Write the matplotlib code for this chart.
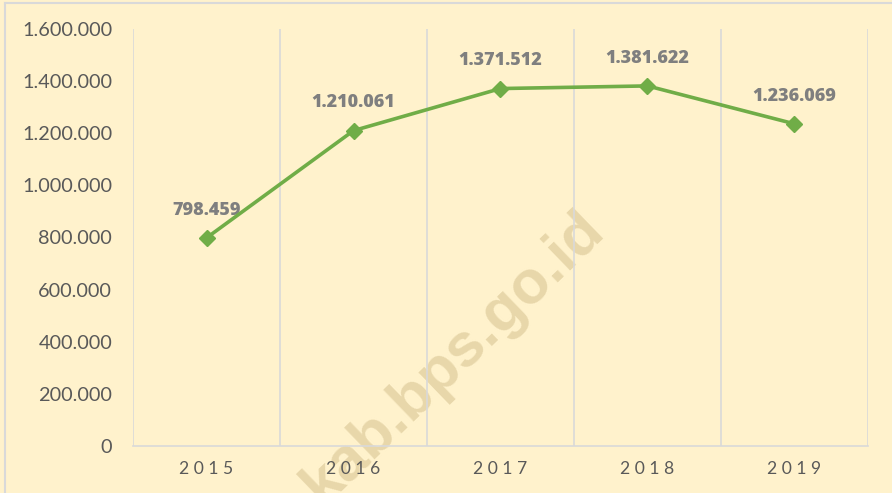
import numpy as np
import matplotlib
matplotlib.use("Agg")
import matplotlib.pyplot as plt
from matplotlib.lines import Line2D

# --- data ---
years = ["2015", "2016", "2017", "2018", "2019"]
values = [798459, 1210061, 1371512, 1381622, 1236069]
y_ticks = [0, 200000, 400000, 600000, 800000, 1000000, 1200000, 1400000, 1600000]


def fmt_id(v):
    return f"{v:,.0f}".replace(",", ".")


plt.rcParams['font.family'] = ['Lato', 'DejaVu Sans']

BG = '#FFF2CC'
GREEN = '#70AD47'
GRID = '#D9D9D9'
TXT = '#595959'
LBL = '#7F7F7F'

fig = plt.figure(figsize=(8.92, 4.93), dpi=100, facecolor=BG)
ax = fig.add_axes([133 / 892, 47 / 493, 735 / 892, 417 / 493])
ax.set_facecolor('none')

# watermark (behind the axes)
fig.text(606 / 892, 1 - 232 / 493, "kab.bps.go.id", rotation=44, rotation_mode='anchor',
         ha='right', va='baseline', fontsize=44, fontweight='bold',
         family='Liberation Sans', color='#E8D7AA', zorder=-1)

x = np.arange(len(years))
ax.plot(x, values, color=GREEN, linewidth=2.6, marker='D', markersize=8.5,
        markerfacecolor=GREEN, markeredgecolor=GREEN, zorder=4, clip_on=False)

for xi, v in zip(x, values):
    ax.annotate(fmt_id(v), (xi, v), xytext=(0, 20), textcoords='offset points',
                ha='center', va='center', fontsize=13, fontweight='black',
                family=['Open Sans', 'DejaVu Sans'], color=LBL)

ax.set_xlim(-0.5, len(years) - 0.5)
ax.set_ylim(0, 1600000)
ax.set_yticks(y_ticks)
ax.set_yticklabels([fmt_id(t) for t in y_ticks])
ax.set_xticks(x)
ax.set_xticklabels([" ".join(y) for y in years])

# vertical category separators
for b in np.arange(-0.5, len(years), 1.0):
    ax.axvline(b, color=GRID, linewidth=1.2, zorder=1)

for s in ['top', 'right', 'left']:
    ax.spines[s].set_visible(False)
ax.spines['bottom'].set_color(GRID)
ax.spines['bottom'].set_linewidth(1.2)
ax.tick_params(axis='both', length=0, colors=TXT)
ax.tick_params(axis='y', labelsize=14.3, pad=15)
ax.tick_params(axis='x', labelsize=12.6, pad=11)

# chart frame edges
fig.add_artist(Line2D([4.5 / 892, 4.5 / 892], [0, 1 - 3 / 493], color=GRID, linewidth=1.5,
                      transform=fig.transFigure))
fig.add_artist(Line2D([4.5 / 892, 1], [1 - 3 / 493, 1 - 3 / 493], color=GRID, linewidth=1.5,
                      transform=fig.transFigure))

fig.savefig('out.png', dpi=100, facecolor=BG)
